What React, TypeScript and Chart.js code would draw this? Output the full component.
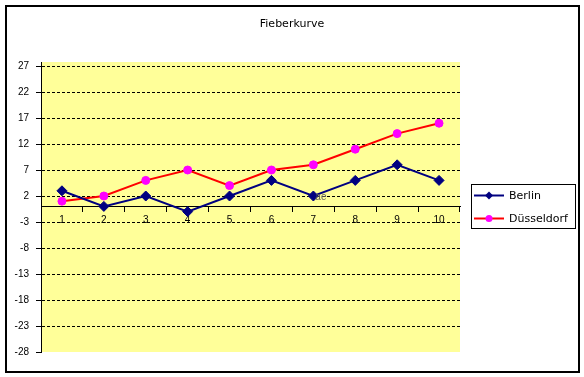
import React, { useEffect, useRef } from "react";
import { Chart, registerables } from "chart.js";

Chart.register(...registerables);

const chartTitle = "Fieberkurve";
const categories = ["1", "2", "3", "4", "5", "6", "7", "8", "9", "10"];
const berlin = [3, 0, 2, -1, 2, 5, 2, 5, 8, 5];
const duesseldorf = [1, 2, 5, 7, 4, 7, 8, 11, 14, 16];
const yTickValues = [-28, -23, -18, -13, -8, -3, 2, 7, 12, 17, 22, 27];
const yMin = -28;
const yMax = 27.77;
const strayText = "ae";
const strayTextCategory = 6;
const strayTextValue = 2;

const FONT = "'Liberation Sans', Arial, sans-serif";
const FONT2 = "'DejaVu Sans', Verdana, sans-serif";

const decorPlugin = {
  id: "decor",
  beforeDraw(chart: any) {
    const { ctx, chartArea } = chart;
    ctx.save();
    ctx.fillStyle = "#ffffff";
    ctx.fillRect(0, 0, chart.width, chart.height);
    ctx.fillStyle = "#FFFF99";
    ctx.fillRect(chartArea.left, chartArea.top, chartArea.right - chartArea.left, chartArea.bottom - chartArea.top);
    ctx.restore();
  },
  afterDraw(chart: any) {
    const { ctx } = chart;
    ctx.save();
    // outer border
    ctx.strokeStyle = "#000000";
    ctx.lineWidth = 2;
    ctx.strokeRect(6, 6, 573, 366);
    // title
    ctx.fillStyle = "#000000";
    ctx.font = `11px ${FONT2}`;
    ctx.textAlign = "center";
    ctx.textBaseline = "middle";
    ctx.fillText(chartTitle, 292, 24);
    // stray text
    const xs = chart.scales.x;
    const ys = chart.scales.y;
    ctx.fillStyle = "#5a5a5a";
    ctx.font = `10px ${FONT}`;
    ctx.textAlign = "left";
    ctx.fillText(strayText, xs.getPixelForValue(strayTextCategory) + 2, ys.getPixelForValue(strayTextValue) + 1);
    // legend
    const lx = 471, ly = 184, lw = 104, lh = 44;
    ctx.fillStyle = "#ffffff";
    ctx.fillRect(lx, ly, lw, lh);
    ctx.strokeStyle = "#000000";
    ctx.lineWidth = 1;
    ctx.strokeRect(lx + 0.5, ly + 0.5, lw, lh);
    const rows = [195.5, 218.5];
    chart.data.datasets.forEach((ds: any, i: number) => {
      const y = rows[i];
      ctx.strokeStyle = ds.borderColor;
      ctx.lineWidth = 2;
      ctx.beginPath();
      ctx.moveTo(474, y);
      ctx.lineTo(504, y);
      ctx.stroke();
      ctx.fillStyle = ds.pointBackgroundColor;
      ctx.beginPath();
      if (ds.pointStyle === "rectRot") {
        const r = 4;
        ctx.moveTo(489 - r, y);
        ctx.lineTo(489, y - r);
        ctx.lineTo(489 + r, y);
        ctx.lineTo(489, y + r);
        ctx.closePath();
      } else {
        ctx.arc(489, y, 3.5, 0, Math.PI * 2);
      }
      ctx.fill();
      ctx.fillStyle = "#000000";
      ctx.font = `11px ${FONT2}`;
      ctx.textAlign = "left";
      ctx.textBaseline = "middle";
      ctx.fillText(ds.label, 509, y + 0.5);
    });
    ctx.restore();
  },
};

export default function App() {
  const ref = useRef<HTMLCanvasElement>(null);
  useEffect(() => {
    document.body.style.margin = "0";
    const canvas = ref.current!;
    const chart = new Chart(canvas, {
      type: "line",
      data: {
        labels: categories,
        datasets: [
          {
            label: "Berlin",
            data: berlin,
            borderColor: "#000080",
            backgroundColor: "#000080",
            pointBackgroundColor: "#000080",
            pointBorderColor: "#000080",
            pointStyle: "rectRot",
            pointRadius: 5,
            pointBorderWidth: 1,
            borderWidth: 2,
            tension: 0,
          },
          {
            label: "Düsseldorf",
            data: duesseldorf,
            borderColor: "#FF0000",
            backgroundColor: "#FF00FF",
            pointBackgroundColor: "#FF00FF",
            pointBorderColor: "#FF00FF",
            pointStyle: "circle",
            pointRadius: 4,
            pointBorderWidth: 1,
            borderWidth: 2,
            tension: 0,
          },
        ],
      },
      options: {
        responsive: false,
        animation: false,
        layout: { padding: { left: 10, top: 62, right: 124, bottom: 25 } },
        plugins: {
          legend: { display: false },
          title: { display: false },
          tooltip: { enabled: false },
        },
        scales: {
          x: {
            type: "category",
            position: { y: 0 } as any,
            offset: true,
            grid: {
              drawOnChartArea: false,
              drawTicks: true,
              tickLength: 5,
              offset: true,
              color: "#000000",
            },
            border: { display: true, color: "#000000", width: 1 },
            ticks: {
              color: "#000000",
              font: { family: FONT, size: 10 },
              padding: 3,
              maxRotation: 0,
              autoSkip: false,
            },
          },
          y: {
            position: "left",
            min: yMin,
            max: yMax,
            afterBuildTicks: (scale: any) => {
              scale.ticks = yTickValues.map((v) => ({ value: v }));
            },
            afterFit: (scale: any) => {
              scale.width = 31;
            },
            grid: {
              color: (c: any) => (c.tick && c.tick.value === yMin ? "rgba(0,0,0,0)" : "#000000"),
              tickColor: "#000000",
              tickBorderDash: [1, 0],
              tickLength: 5,
              lineWidth: 1,
            },
            border: { display: true, color: "#000000", width: 1, dash: [3, 2] },
            ticks: {
              color: "#000000",
              font: { family: FONT, size: 10 },
              padding: 7,
              autoSkip: false,
            },
          },
        },
      },
      plugins: [decorPlugin],
    });
    return () => chart.destroy();
  }, []);
  return <canvas ref={ref} width={584} height={377} style={{ display: "block" }} />;
}
